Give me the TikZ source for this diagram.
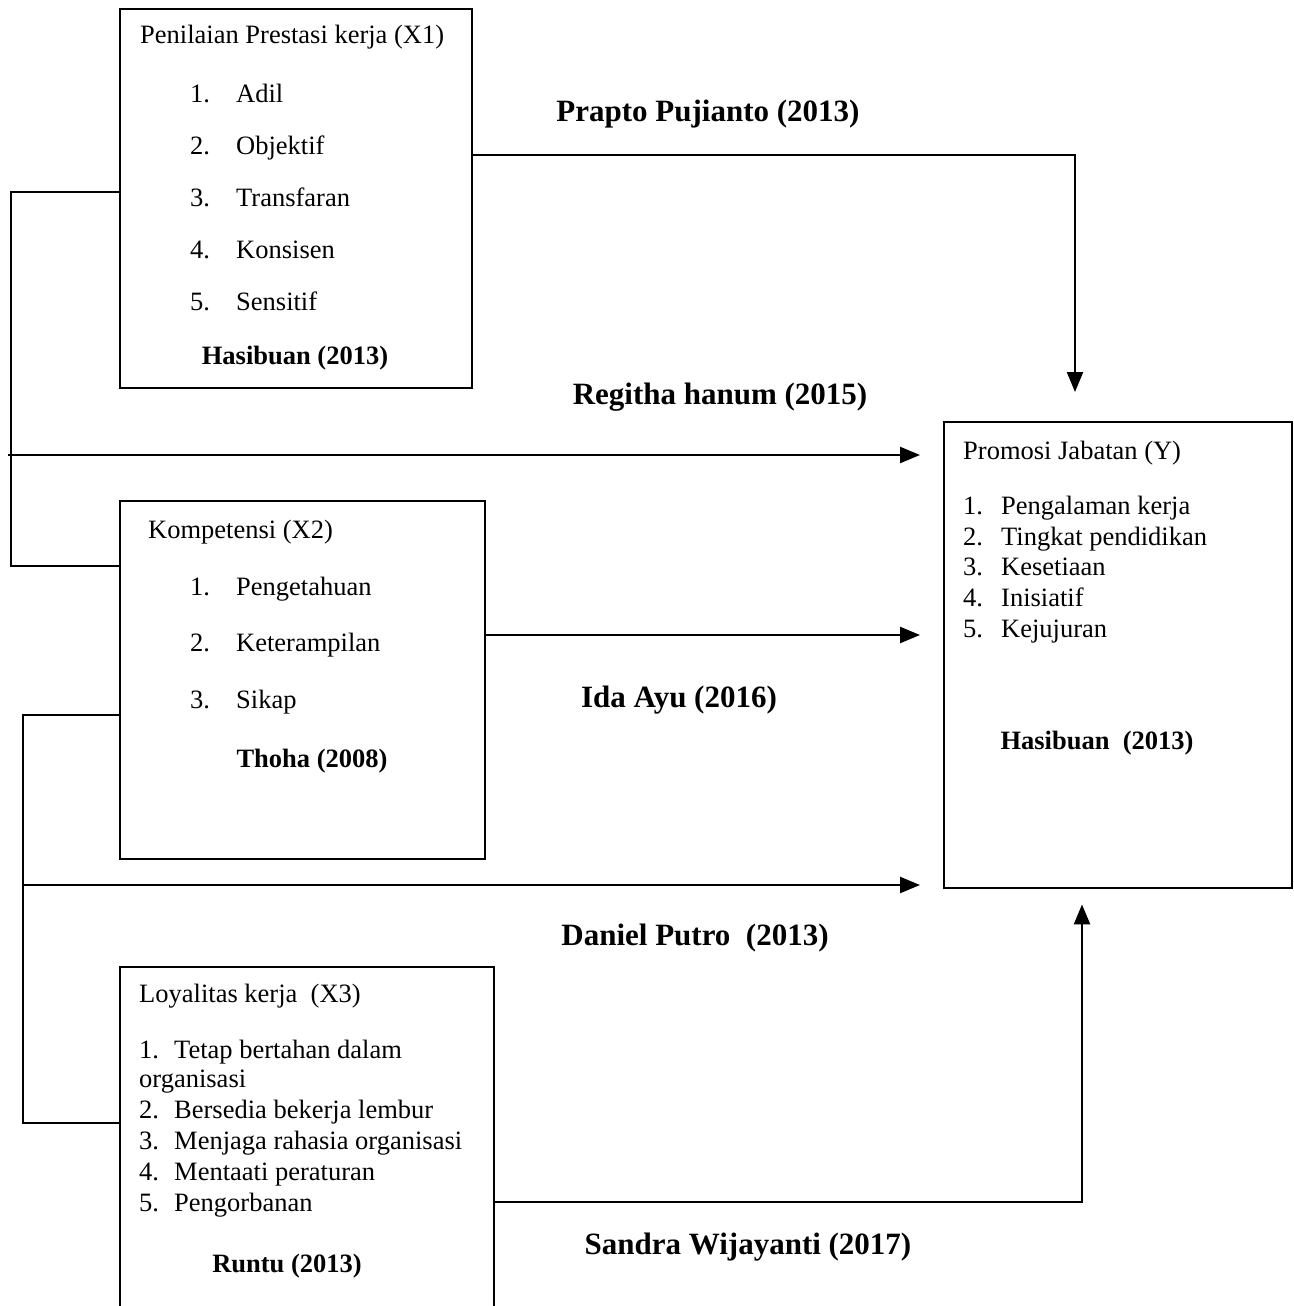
\documentclass[tikz,border=0pt]{standalone}
\usepackage{fontspec}
\setmainfont{Liberation Serif}
\usetikzlibrary{arrows.meta}

\tikzset{
  box/.style={draw, line width=2.4pt, anchor=north west, inner sep=0pt},
  txt/.style={anchor=base west, inner sep=0pt, font=\fontsize{26.5}{31}\selectfont},
  ref/.style={anchor=base, inner sep=0pt, font=\fontsize{26.5}{31}\selectfont\bfseries},
  author/.style={anchor=base, inner sep=0pt, font=\fontsize{31}{36}\selectfont\bfseries},
  link/.style={line width=2.4pt},
  arr/.style={line width=2.4pt, -{Triangle[length=20pt,width=16pt]}}
}

\begin{document}
\begin{tikzpicture}[x=1pt, y=-1pt]
        \useasboundingbox (0,0) rectangle (1293,1306);
        \clip (0,0) rectangle (1293,1306);

        % boxes
        \node[box, minimum width=352pt, minimum height=379pt] (x1) at (119,8) {};
        \node[box, minimum width=365pt, minimum height=358pt] (x2) at (119,500) {};
        \node[box, minimum width=374pt, minimum height=400pt] (x3) at (119,966) {};
        \node[box, minimum width=348pt, minimum height=466pt] (y) at (943,421) {};

        % X1
        \node[txt] (x1title) at (140,44) {Penilaian Prestasi kerja (X1)};
        \node[txt] (x1n1) at (190,102) {1.};
        \node[txt] (x1a) at (236,102) {Adil};
        \node[txt] (x1n2) at (190,154) {2.};
        \node[txt] (x1b) at (236,154) {Objektif};
        \node[txt] (x1n3) at (190,206) {3.};
        \node[txt] (x1c) at (236,206) {Transfaran};
        \node[txt] (x1n4) at (190,258) {4.};
        \node[txt] (x1d) at (236,258) {Konsisen};
        \node[txt] (x1n5) at (190,310) {5.};
        \node[txt] (x1e) at (236,310) {Sensitif};
        \node[ref] (x1ref) at (295,364) {Hasibuan (2013)};

        % X2
        \node[txt] (x2title) at (148,538) {Kompetensi (X2)};
        \node[txt] (x2n1) at (190,595) {1.};
        \node[txt] (x2a) at (236,595) {Pengetahuan};
        \node[txt] (x2n2) at (190,651) {2.};
        \node[txt] (x2b) at (236,651) {Keterampilan};
        \node[txt] (x2n3) at (190,708) {3.};
        \node[txt] (x2c) at (236,708) {Sikap};
        \node[ref] (x2ref) at (312,767) {Thoha (2008)};

        % X3
        \node[txt] (x3title) at (139,1002) {Loyalitas kerja\ \ (X3)};
        \node[txt] (x3n1) at (139,1058) {1.};
        \node[txt] (x3a) at (174,1058) {Tetap bertahan dalam};
        \node[txt] (x3a2) at (139,1087) {organisasi};
        \node[txt] (x3n2) at (139,1118) {2.};
        \node[txt] (x3b) at (174,1118) {Bersedia bekerja lembur};
        \node[txt] (x3n3) at (139,1149) {3.};
        \node[txt] (x3c) at (174,1149) {Menjaga rahasia organisasi};
        \node[txt] (x3n4) at (139,1180) {4.};
        \node[txt] (x3d) at (174,1180) {Mentaati peraturan};
        \node[txt] (x3n5) at (139,1211) {5.};
        \node[txt] (x3e) at (174,1211) {Pengorbanan};
        \node[ref] (x3ref) at (287,1272) {Runtu (2013)};

        % Y
        \node[txt] (ytitle) at (963,459) {Promosi Jabatan (Y)};
        \node[txt] (yn1) at (963,514) {1.};
        \node[txt] (ya) at (1001,514) {Pengalaman kerja};
        \node[txt] (yn2) at (963,545) {2.};
        \node[txt] (yb) at (1001,545) {Tingkat pendidikan};
        \node[txt] (yn3) at (963,575) {3.};
        \node[txt] (yc) at (1001,575) {Kesetiaan};
        \node[txt] (yn4) at (963,606) {4.};
        \node[txt] (yd) at (1001,606) {Inisiatif};
        \node[txt] (yn5) at (963,637) {5.};
        \node[txt] (ye) at (1001,637) {Kejujuran};
        \node[ref] (yref) at (1097,749) {Hasibuan\ \ (2013)};

        % authors on the links
        \node[author] (prapto) at (708,121) {Prapto Pujianto (2013)};
        \node[author] (regitha) at (720,404) {Regitha hanum (2015)};
        \node[author] (ida) at (679,707) {Ida Ayu (2016)};
        \node[author] (daniel) at (695,945) {Daniel Putro\ \ (2013)};
        \node[author] (sandra) at (748,1254) {Sandra Wijayanti (2017)};

        % links
        \coordinate (c1) at (1075,155);
        \coordinate (c1end) at (1075,392);
        \draw[arr] (x1.east |- c1) -- (c1) -- (c1end);

        \coordinate (b1) at (11,192);
        \coordinate (b2) at (11,566);
        \draw[link] (x1.west |- b1) -- (b1) -- (b2) -- (x2.west |- b2);

        \coordinate (r1) at (8,455);
        \draw[arr, shorten >=23pt] (r1) -- (y.west |- r1);

        \coordinate (c2) at (484,635);
        \draw[arr, shorten >=23pt] (c2) -- (y.west |- c2);

        \coordinate (b3) at (23,715);
        \coordinate (b4) at (23,1123);
        \draw[link] (x2.west |- b3) -- (b3) -- (b4) -- (x3.west |- b4);

        \coordinate (r2) at (23,885);
        \draw[arr, shorten >=23pt] (r2) -- (y.west |- r2);

        \coordinate (c3) at (1082,1202);
        \draw[arr, shorten >=15pt] (x3.east |- c3) -- (c3) -- (c3 |- y.south);
    \end{tikzpicture}
\end{document}
